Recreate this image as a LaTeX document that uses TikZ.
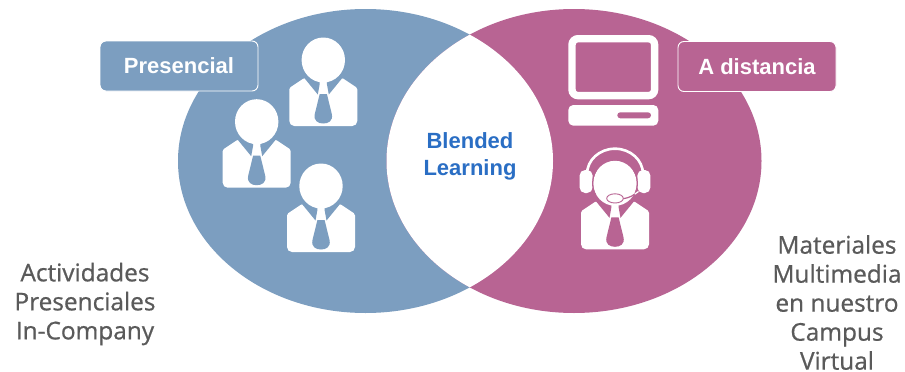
\documentclass[tikz,border=0pt]{standalone}
\usepackage{fontspec}
\setmainfont{Liberation Sans}
\newfontfamily\greyfont[FakeBold=0.7]{Open Sans}
\definecolor{bluefill}{HTML}{7C9EC0}
\definecolor{pinkfill}{HTML}{B86493}
\definecolor{greytext}{HTML}{5A5A5A}
\definecolor{bluetext}{HTML}{2A6EC4}
\tikzset{
  x=1pt,y=-1pt,
  tagbox/.style={draw=white,line width=0.9pt,rounded corners=6pt,text=white,font=\bfseries\fontsize{22}{26}\selectfont,inner sep=0pt,minimum height=50pt,minimum width=158pt},
  sidetext/.style={text=greytext,font=\greyfont\fontsize{24.4}{29}\selectfont,align=center,inner sep=0pt},
  pics/person/.style={code={
    \fill[white,rounded corners=1.5pt] (-19,18) -- (-34,28) [rounded corners=5pt] -- (-34,66) -- (34,66) [rounded corners=1.5pt] -- (34,28) -- (19,18) -- cycle;
    \fill[#1] (-19,18) -- (-5.5,34.5) -- (-3.6,24) -- (-3.6,16) -- (3.6,16) -- (3.6,24) -- (5.5,34.5) -- (19,18) -- (14,14) -- (-14,14) -- cycle;
    \fill[white] (0,0) circle[x radius=21.7,y radius=22.5];
    \fill[#1] (-3.6,34) -- (3.6,34) -- (8.5,54) .. controls (10,61) and (5,63.5) .. (0,63.5) .. controls (-5,63.5) and (-10,61) .. (-8.5,54) -- cycle;
  }}
}
\begin{document}
\begin{tikzpicture}
\useasboundingbox (0,0) rectangle (905,372);
\fill[white] (0,0) rectangle (905,372);
\fill[bluefill] (365.5,161) ellipse[x radius=187.5,y radius=152];
\fill[pinkfill] (574,161) ellipse[x radius=187.5,y radius=152];
\begin{scope}
\clip (365.5,161) ellipse[x radius=187.5,y radius=152];
\fill[white] (574,161) ellipse[x radius=187.5,y radius=152];
\end{scope}
\node[tagbox,fill=bluefill] (presencial) at (179,66) {Presencial};
\node[tagbox,fill=pinkfill] (distancia) at (757,66.5) {A distancia};
\pic at (323.3,60) {person=bluefill};
\pic at (256.7,121.7) {person=bluefill};
\pic at (321,186) {person=bluefill};
\pic at (615,183.3) {person=pinkfill};
% headset
\draw[white,line width=2.6pt] (587,174) arc[start angle=180,end angle=360,x radius=28,y radius=25.3];
\fill[white,rounded corners=5.5pt] (579.6,170) rectangle (592.6,193);
\fill[white,rounded corners=5.5pt] (637.4,170) rectangle (650.4,193);
\draw[pinkfill,line width=1pt] (615,183.3) ++(150:22.4 and 23) arc[start angle=150,end angle=215,x radius=22.4,y radius=23];
\draw[pinkfill,line width=1pt] (615,183.3) ++(30:22.4 and 23) arc[start angle=30,end angle=-35,x radius=22.4,y radius=23];
\draw[white,line width=1.2pt] (638.5,191.5) -- (634.5,194.3);
\draw[pinkfill,line width=1.2pt] (634.5,194.3) .. controls (630,197.5) and (626,198.5) .. (620,199);
\draw[pinkfill,line width=0.9pt,fill=white] (615,198.4) ellipse[x radius=8.3,y radius=4.6];
% computer
\draw[white,line width=7.4pt,rounded corners=6pt] (572,38.7) rectangle (654.6,95.6);
\fill[white,rounded corners=5pt] (568.3,105) rectangle (658.3,125.7);
\fill[pinkfill,rounded corners=3pt] (617.3,112.3) rectangle (651,118.3);
\node[text=bluetext,font=\bfseries\fontsize{22}{27}\selectfont,align=center,inner sep=0pt] (blended) at (470,156.5) {Blended\\Learning};
\node[sidetext] (left) at (85,304) {Actividades\\Presenciales\\In-Company};
\node[sidetext] (right) at (837,302.5) {Materiales\\Multimedia\\en nuestro\\Campus\\Virtual};
\end{tikzpicture}
\end{document}
